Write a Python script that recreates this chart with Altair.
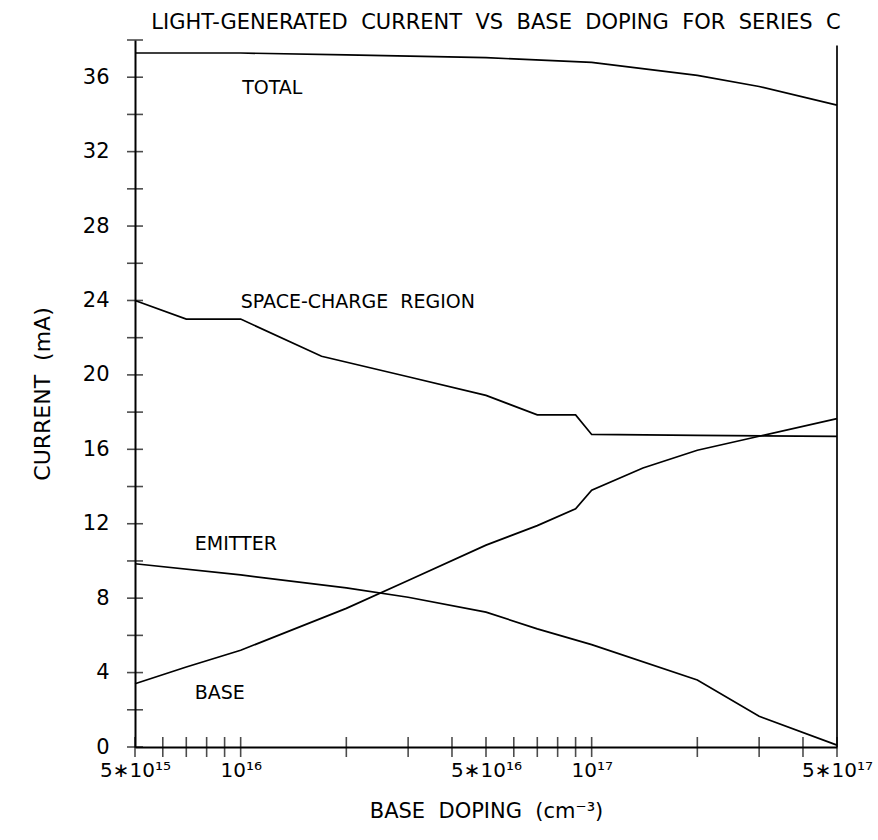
import altair as alt
import pandas as pd

# ---------------- data ----------------
doping_total = [5e15, 1e16, 2e16, 5e16, 1e17, 2e17, 3e17, 5e17]
current_total = [37.3, 37.3, 37.2, 37.05, 36.8, 36.1, 35.5, 34.5]

doping_scr = [5e15, 7e15, 1e16, 1.7e16, 3e16, 5e16, 7e16, 9e16, 1e17, 2e17, 5e17]
current_scr = [24.0, 23.0, 23.0, 21.0, 19.9, 18.9, 17.85, 17.85, 16.8, 16.75, 16.7]

doping_emitter = [5e15, 1e16, 2e16, 3e16, 5e16, 7e16, 1e17, 2e17, 3e17, 5e17]
current_emitter = [9.85, 9.25, 8.55, 8.05, 7.25, 6.35, 5.5, 3.6, 1.65, 0.1]

doping_base = [5e15, 7e15, 1e16, 2e16, 3e16, 5e16, 7e16, 9e16, 1e17, 1.4e17, 2e17, 3e17, 5e17]
current_base = [3.4, 4.3, 5.2, 7.45, 8.95, 10.85, 11.9, 12.8, 13.8, 15.0, 15.95, 16.7, 17.65]

series_names = ["TOTAL", "SPACE-CHARGE REGION", "EMITTER", "BASE"]

# curve labels (anchored in data coordinates)
label_texts = ["TOTAL", "SPACE-CHARGE\u00a0 REGION", "EMITTER", "BASE"]
label_doping = [1.01e16, 1.0e16, 7.4e15, 7.4e15]
label_current = [35.1, 23.6, 10.58, 2.56]

# axis ticks and labels
x_tick_values = [5e15, 6e15, 7e15, 8e15, 9e15, 1e16, 2e16, 3e16, 4e16,
                 5e16, 6e16, 7e16, 8e16, 9e16, 1e17, 2e17, 3e17, 4e17, 5e17]
x_label_values = [5e15, 1e16, 5e16, 1e17, 5e17]
x_label_texts = ["5\u221710\u00b9\u2075", "10\u00b9\u2076", "5\u221710\u00b9\u2076",
                 "10\u00b9\u2077", "5\u221710\u00b9\u2077"]
y_tick_values = [0, 2, 4, 6, 8, 10, 12, 14, 16, 18, 20, 22, 24, 26, 28, 30, 32, 34, 36, 38]
y_label_values = [0, 4, 8, 12, 16, 20, 24, 28, 32, 36]

x_domain = [5e15, 5e17]
y_domain = [0, 38]
right_edge_doping = [5e17]
right_edge_top = [37.7]

title_text = "LIGHT-GENERATED\u00a0 CURRENT\u00a0 VS\u00a0 BASE\u00a0 DOPING\u00a0 FOR\u00a0 SERIES\u00a0 C"
x_title = "BASE\u00a0 DOPING\u00a0 (cm\u207b\u00b3)"
y_title = "CURRENT\u00a0 (mA)"

FONT = "DejaVu Sans"

# ---------------- tables ----------------
rows = []
for name, xs, ys in [
    (series_names[0], doping_total, current_total),
    (series_names[1], doping_scr, current_scr),
    (series_names[2], doping_emitter, current_emitter),
    (series_names[3], doping_base, current_base),
]:
    for xv, yv in zip(xs, ys):
        rows.append({"series": name, "doping": xv, "current": yv})
curves = pd.DataFrame(rows)

labels_df = pd.DataFrame({"label": label_texts, "doping": label_doping, "current": label_current})
xticks_df = pd.DataFrame({"doping": x_tick_values, "current": [0] * len(x_tick_values)})
yticks_df = pd.DataFrame({"doping": [x_domain[0]] * len(y_tick_values), "current": y_tick_values})
edge_df = pd.DataFrame({"doping": right_edge_doping, "current": [0], "top": right_edge_top})

# label expression built from the label lists
expr = "''"
for v, t in reversed(list(zip(x_label_values, x_label_texts))):
    expr = f"abs(datum.value/{v!r}-1)<1e-6 ? '{t}' : ({expr})"

xscale = alt.Scale(type="log", domain=x_domain, nice=False)
yscale = alt.Scale(domain=y_domain, nice=False, zero=False)

x_axis = alt.Axis(
    values=x_label_values, labelExpr=expr, ticks=False, tickSize=0,
    domain=True, domainColor="black", domainWidth=2, grid=False,
    labelFont=FONT, labelFontSize=20, labelColor="black", labelPadding=13,
    labelFlush=False, labelOverlap=False,
    title=x_title, titleFont=FONT, titleFontSize=21, titleFontWeight="normal",
    titleColor="black", titlePadding=20,
)
y_axis = alt.Axis(
    values=y_label_values, ticks=False, tickSize=0,
    domain=True, domainColor="black", domainWidth=2, grid=False,
    labelFont=FONT, labelFontSize=21, labelColor="black", labelPadding=26,
    labelOverlap=False,
    title=y_title, titleFont=FONT, titleFontSize=22, titleFontWeight="normal",
    titleColor="black", titlePadding=28,
)

X = alt.X("doping:Q", scale=xscale, axis=x_axis)
Y = alt.Y("current:Q", scale=yscale, axis=y_axis)

lines = alt.Chart(curves).mark_line(color="black", strokeWidth=1.7).encode(
    x=X, y=Y, detail="series:N",
)
xticks = alt.Chart(xticks_df).mark_tick(orient="vertical", size=20, thickness=1.6, color="black").encode(
    x=X, y=Y,
)
yticks = alt.Chart(yticks_df).mark_tick(orient="horizontal", size=16, thickness=1.6, color="black").encode(
    x=X, y=Y,
)
edge = alt.Chart(edge_df).mark_rule(color="black", strokeWidth=1.7).encode(
    x=X, y=Y, y2="top:Q",
)
texts = alt.Chart(labels_df).mark_text(
    align="left", baseline="alphabetic", font=FONT, fontSize=19, color="black"
).encode(
    x=X, y=Y, text="label:N",
)

chart = alt.layer(lines, xticks, yticks, edge, texts).properties(
    width=702,
    height=707,
    padding={"left": 135, "top": 40, "right": 41, "bottom": 93},
    autosize=alt.AutoSizeParams(type="none"),
    background="white",
    title=alt.TitleParams(
        text=title_text, font=FONT, fontSize=21, fontWeight="normal",
        color="black", anchor="middle", offset=6, dx=10,
    ),
).configure_view(stroke=None)

chart.save("out.html", embed_options={"renderer": "svg", "actions": False})
